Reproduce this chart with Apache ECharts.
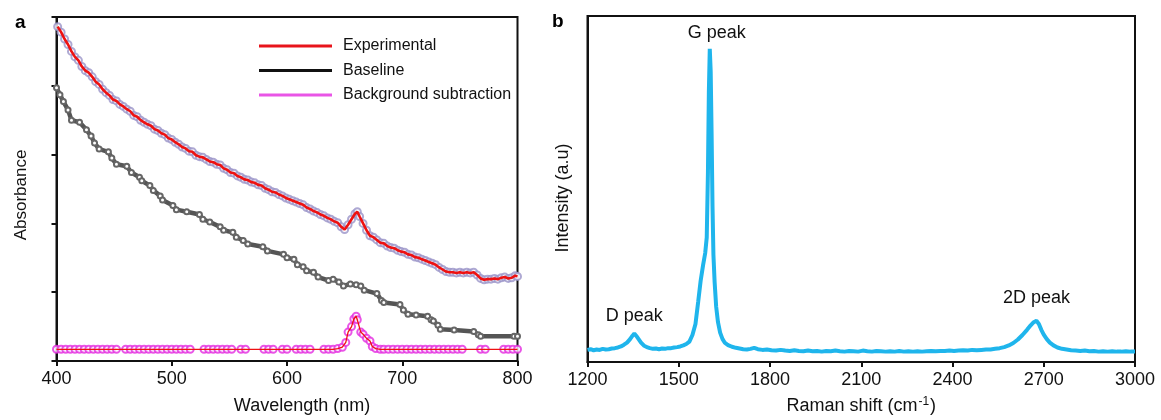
<!DOCTYPE html>
<html>
<head>
<meta charset="utf-8">
<script src="https://cdn.jsdelivr.net/npm/echarts@6/dist/echarts.min.js"></script>
<style>
html,body{margin:0;padding:0;background:#fff;}
#chart{width:1161px;height:420px;}
</style>
</head>
<body>
<div id="chart"></div>
<script>
// ---------- Panel a : absorbance ----------
const expWavelength = [401,404,407,410,413,416,419,422,425,428,431,434,437,440,443,446,449,452,455,458,461,464,467,470,473,476,479,482,485,488,491,494,497,500,503,506,509,512,515,518,521,524,527,530,533,536,539,542,545,548,551,554,557,560,563,566,569,572,575,578,581,584,587,590,593,596,599,602,605,608,611,614,617,620,623,626,629,632,635,638,641,644,647,650,653,656,659,661,663,666,669,672,675,678,681,684,687,690,693,696,699,702,705,708,711,714,717,720,723,726,729,732,735,738,741,744,747,750,753,756,759,762,765,768,771,774,777,780,783,786,789,792,795,798,800];
const expAbsorbance = [4.86,4.78,4.68,4.60,4.50,4.42,4.37,4.28,4.22,4.19,4.13,4.06,4.02,3.95,3.90,3.86,3.80,3.78,3.73,3.70,3.66,3.63,3.57,3.55,3.50,3.47,3.44,3.42,3.37,3.35,3.31,3.29,3.24,3.22,3.18,3.15,3.11,3.09,3.05,3.04,2.99,2.97,2.96,2.93,2.90,2.89,2.86,2.85,2.80,2.78,2.74,2.73,2.69,2.67,2.64,2.63,2.60,2.59,2.56,2.55,2.51,2.49,2.46,2.45,2.42,2.40,2.37,2.35,2.33,2.31,2.29,2.27,2.23,2.21,2.18,2.16,2.13,2.11,2.08,2.06,2.03,2.01,1.95,1.91,1.98,2.06,2.14,2.17,2.10,2.00,1.90,1.82,1.80,1.76,1.72,1.71,1.67,1.65,1.64,1.61,1.59,1.58,1.55,1.54,1.51,1.50,1.48,1.46,1.44,1.42,1.40,1.36,1.33,1.30,1.29,1.29,1.28,1.29,1.28,1.29,1.28,1.29,1.25,1.20,1.18,1.19,1.19,1.20,1.19,1.21,1.22,1.20,1.21,1.24,1.23];

const baseWavelength = [400,403,406,410,413,420,426,430,433,437,445,448,452,461,465,472,474,481,484,490,492,501,504,513,524,527,533,542,545,553,556,562,566,579,583,597,600,606,609,614,617,623,627,636,640,645,649,655,660,664,667,678,682,684,698,701,705,712,722,725,727,731,733,745,762,766,768,797,800];
const baseAbsorbance = [3.97,3.87,3.77,3.65,3.50,3.47,3.36,3.27,3.17,3.08,3.04,2.95,2.86,2.83,2.74,2.67,2.62,2.55,2.48,2.40,2.34,2.26,2.20,2.17,2.13,2.06,2.02,1.95,1.90,1.87,1.80,1.75,1.70,1.66,1.60,1.55,1.50,1.48,1.40,1.37,1.31,1.29,1.22,1.17,1.19,1.15,1.09,1.12,1.11,1.09,1.03,0.98,0.88,0.85,0.82,0.74,0.68,0.67,0.65,0.60,0.58,0.52,0.46,0.45,0.43,0.38,0.36,0.36,0.36];

const bgWavelength = [400,404,408,412,416,420,424,428,432,436,440,444,448,452,456,460,464,468,472,476,480,484,488,492,496,500,504,508,512,516,520,524,528,532,536,540,544,548,552,556,560,564,568,572,576,580,584,588,592,596,600,604,608,612,616,620,624,628,632,636,640,644,648,651,653,656,658,660,661,664,666,669,672,674,677,681,684,688,692,696,700,704,708,712,716,720,724,728,732,736,740,744,748,752,756,760,764,768,772,776,780,784,788,792,796,800];
const bgAbsorbance = [0.17,0.17,0.17,0.17,0.17,0.17,0.17,0.17,0.17,0.17,0.17,0.17,0.17,0.17,null,0.17,0.17,0.17,0.17,0.17,0.17,0.17,0.17,0.17,0.17,0.17,0.17,0.17,0.17,0.17,null,null,0.17,0.17,0.17,0.17,0.17,0.17,0.17,null,0.17,0.17,null,null,null,0.17,0.17,0.17,null,0.17,0.17,null,0.17,0.17,0.17,0.17,null,null,0.17,0.17,0.17,0.18,0.20,0.27,0.42,0.50,0.61,0.65,0.60,0.42,0.39,0.33,0.29,0.21,0.18,0.17,0.17,0.17,0.17,0.17,0.17,0.17,0.17,0.17,0.17,0.17,0.17,0.17,0.17,0.17,0.17,0.17,0.17,0.17,null,null,null,0.17,0.17,null,null,null,0.17,0.17,0.17,0.17];

const legendNames = ['Experimental', 'Baseline', 'Background subtraction'];

// ---------- Panel b : Raman ----------
const ramanShift = [1200,1210,1220,1230,1240,1250,1260,1270,1280,1290,1300,1310,1320,1330,1340,1348,1354,1360,1368,1376,1385,1395,1405,1415,1425,1435,1445,1455,1465,1475,1485,1495,1505,1515,1525,1535,1545,1555,1564,1572,1580,1587,1592,1596,1599,1602,1605,1608,1611,1614,1618,1623,1629,1636,1644,1652,1662,1675,1688,1700,1712,1724,1736,1748,1760,1775,1790,1805,1820,1835,1850,1865,1880,1895,1910,1925,1940,1955,1970,1985,2000,2015,2030,2045,2060,2075,2090,2105,2120,2135,2150,2165,2180,2195,2210,2225,2240,2255,2270,2285,2300,2315,2330,2345,2360,2375,2390,2405,2420,2435,2450,2465,2480,2495,2510,2525,2540,2555,2570,2585,2600,2615,2630,2645,2657,2667,2676,2684,2692,2700,2710,2720,2732,2745,2760,2775,2790,2805,2820,2835,2850,2865,2880,2895,2910,2925,2940,2955,2970,2985,3000];
const intensity = [3.5,3.7,3.4,3.6,3.5,3.8,3.6,3.7,3.9,4.0,4.2,4.5,5.0,5.6,6.6,7.6,8.2,7.6,6.6,5.6,4.8,4.3,4.0,3.8,3.9,3.7,3.9,3.8,4.0,4.0,4.2,4.3,4.5,4.8,5.2,5.9,7.8,11.0,17.5,23.5,28,31.5,36,55,78,90.5,84,66,45,31,23,16,11.5,8.5,6.6,5.5,4.9,4.4,4.1,3.9,3.7,3.6,3.8,4.1,3.7,3.5,3.6,3.4,3.3,3.5,3.3,3.2,3.4,3.2,3.1,3.3,3.1,3.2,3.0,3.2,3.1,3.3,3.1,3.0,3.2,3.1,3.0,3.3,3.1,3.0,3.2,3.1,3.0,3.1,3.0,3.2,3.0,3.1,3.0,3.1,3.0,3.1,3.2,3.1,3.2,3.2,3.3,3.2,3.3,3.4,3.3,3.5,3.4,3.5,3.6,3.6,3.8,4.0,4.3,4.8,5.5,6.5,7.8,9.3,10.6,11.5,11.9,11.0,9.3,7.9,6.6,5.6,4.8,4.2,3.8,3.6,3.4,3.3,3.2,3.3,3.1,3.2,3.0,3.1,3.0,3.1,3.0,3.0,3.1,3.0,3.0];

const peakNames = ['D peak', 'G peak', '2D peak'];
const peakShift = [1354, 1602, 2676];
const peakIntensity = [8.2, 90.5, 11.9];

const xTicksA = [400, 800, 100];
const xTicksB = [1200, 3000, 300];

// ---------- build ----------
const zip = (a, b) => a.map((v, i) => [v, b[i]]);
const FONT = '"Liberation Sans", Arial, sans-serif';
const black = '#111';

const axisCommon = {
  axisLine: { show: true, lineStyle: { color: black, width: 2 } },
  axisTick: { show: true, inside: false, length: 5, lineStyle: { color: black, width: 2 } },
  splitLine: { show: false },
  axisLabel: { color: black, fontSize: 18, fontFamily: FONT, margin: 9, formatter: v => String(v) }
};

const chart = echarts.init(document.getElementById('chart'), null, { renderer: 'canvas' });

chart.setOption({
  animation: false,
  backgroundColor: '#fff',
  textStyle: { fontFamily: FONT },
  grid: [
    { left: 56.5, top: 17, width: 461, height: 345, show: true, borderColor: black, borderWidth: 2, backgroundColor: 'transparent' },
    { left: 587.5, top: 16, width: 547.5, height: 347, show: true, borderColor: black, borderWidth: 2, backgroundColor: 'transparent' }
  ],
  xAxis: [
    Object.assign({}, axisCommon, {
      type: 'value', gridIndex: 0, min: xTicksA[0], max: xTicksA[1], interval: xTicksA[2],
      name: 'Wavelength (nm)', nameLocation: 'middle', nameGap: 36,
      nameTextStyle: { color: black, fontSize: 18, fontFamily: FONT, padding: [0, 0, 0, 30] }
    }),
    Object.assign({}, axisCommon, {
      type: 'value', gridIndex: 1, min: xTicksB[0], max: xTicksB[1], interval: xTicksB[2],
      name: 'Raman shift (cm{sup|-1})', nameLocation: 'middle', nameGap: 34,
      nameTextStyle: { color: black, fontSize: 18, fontFamily: FONT,
        rich: { sup: { fontSize: 12, fontFamily: FONT, color: black, verticalAlign: 'top', padding: [0, 1, 8, 1] } } }
    })
  ],
  yAxis: [
    Object.assign({}, axisCommon, {
      type: 'value', gridIndex: 0, min: 0, max: 5, interval: 1,
      axisLabel: { show: false },
      name: 'Absorbance', nameLocation: 'middle', nameGap: 27,
      nameTextStyle: { color: black, fontSize: 17, fontFamily: FONT, padding: [0, 12, 0, 0] }
    }),
    Object.assign({}, axisCommon, {
      type: 'value', gridIndex: 1, min: 0, max: 100,
      axisLabel: { show: false }, axisTick: { show: false },
      name: 'Intensity (a.u)', nameLocation: 'middle', nameGap: 15,
      nameTextStyle: { color: black, fontSize: 18, fontFamily: FONT, padding: [0, 18, 0, 0] }
    })
  ],
  legend: {
    orient: 'vertical', left: 254, top: 33, itemWidth: 73, itemHeight: 3, itemGap: 8.5,
    icon: 'rect', selectedMode: false,
    textStyle: { color: black, fontSize: 16, fontFamily: FONT, padding: [0, 0, 0, 6] },
    data: [
      { name: legendNames[0], itemStyle: { color: '#e8141b' } },
      { name: legendNames[1], itemStyle: { color: '#111111' } },
      { name: legendNames[2], itemStyle: { color: '#e42be0' } }
    ]
  },
  graphic: [
    { type: 'text', left: 15, top: 13, style: { text: 'a', fontSize: 19, fontWeight: 'bold', fontFamily: FONT, fill: '#000' } },
    { type: 'text', left: 552, top: 12, style: { text: 'b', fontSize: 19, fontWeight: 'bold', fontFamily: FONT, fill: '#000' } }
  ],
  series: [
    {
      name: legendNames[1], type: 'line', xAxisIndex: 0, yAxisIndex: 0,
      data: zip(baseWavelength, baseAbsorbance),
      lineStyle: { color: '#555', width: 4.5 },
      symbol: 'emptyCircle', symbolSize: 5, showSymbol: true,
      itemStyle: { color: '#666', borderWidth: 1.5 }
    },
    {
      name: 'exp-marks', type: 'scatter', xAxisIndex: 0, yAxisIndex: 0,
      data: zip(expWavelength, expAbsorbance),
      symbol: 'emptyCircle', symbolSize: 7,
      itemStyle: { color: '#9a94c8', borderWidth: 1.2 }
    },
    {
      name: legendNames[0], type: 'line', xAxisIndex: 0, yAxisIndex: 0,
      data: zip(expWavelength, expAbsorbance),
      showSymbol: false, symbol: 'none',
      lineStyle: { color: '#ee1111', width: 2.6 },
      itemStyle: { color: '#ee1111' }
    },
    {
      name: 'bg-line', type: 'line', xAxisIndex: 0, yAxisIndex: 0,
      data: zip(bgWavelength, bgAbsorbance),
      connectNulls: true, showSymbol: false, symbol: 'none',
      lineStyle: { color: '#ee1111', width: 1.3 }
    },
    {
      name: legendNames[2], type: 'scatter', xAxisIndex: 0, yAxisIndex: 0,
      data: zip(bgWavelength, bgAbsorbance).filter(p => p[1] !== null),
      symbol: 'emptyCircle', symbolSize: 7,
      itemStyle: { color: '#e42be0', borderWidth: 2 }
    },
    {
      name: 'Raman', type: 'line', xAxisIndex: 1, yAxisIndex: 1,
      data: zip(ramanShift, intensity),
      showSymbol: false, symbol: 'none',
      lineStyle: { color: '#1fb5ec', width: 4 },
      itemStyle: { color: '#1fb5ec' },
      markPoint: {
        symbol: 'circle', symbolSize: 0,
        label: { show: true, position: 'top', color: black, fontSize: 18, fontFamily: FONT, formatter: p => p.name },
        data: peakNames.map((n, i) => ({
          name: n, coord: [peakShift[i], peakIntensity[i]],
          label: { offset: [[0, -4], [7, -2], [0, -9]][i] }
        }))
      }
    }
  ]
});
</script>
</body>
</html>
